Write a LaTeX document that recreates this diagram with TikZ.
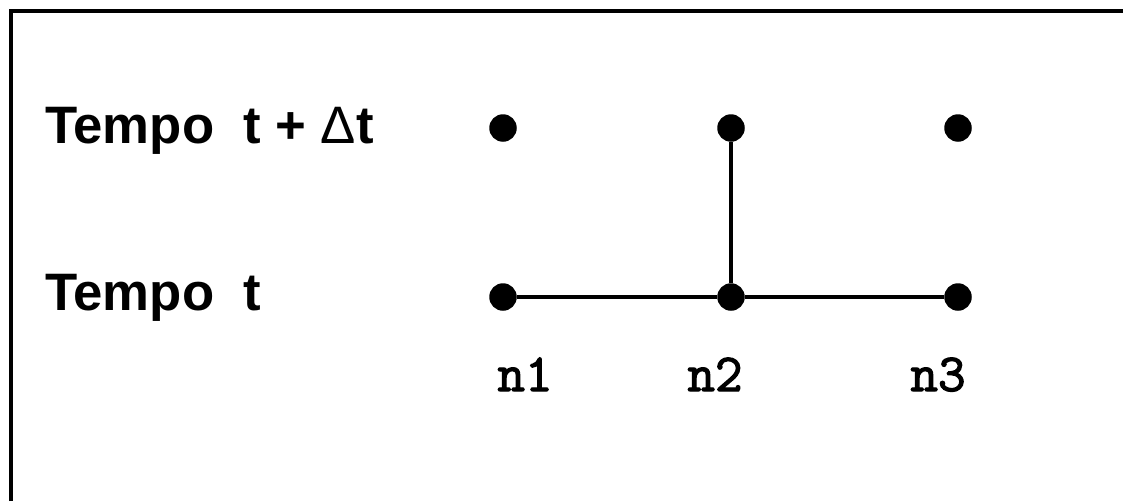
\documentclass[tikz,border=0pt]{standalone}
\usepackage{fontspec}
\setmainfont{Liberation Sans}
\newfontfamily\labelmono[FakeBold=2.2]{Latin Modern Mono}
\tikzset{
  gridpt/.style={circle, fill=black, inner sep=0pt, minimum size=0.55cm},
  timelbl/.style={anchor=base west, inner sep=0pt, font=\fontsize{30}{36}\selectfont\bfseries},
  nodelbl/.style={anchor=base, inner sep=0pt, font=\labelmono\fontsize{30.5}{36}\selectfont},
  bar/.style={line width=2.3pt}
}

\begin{document}
\begin{tikzpicture}[x=0.02cm, y=-0.02cm]
  \useasboundingbox (0,0) rectangle (1123,501);

  % ── Frame (top and left edge only) ───────────────────────────────
  \draw[bar] (11,501) -- (11,11) -- (1123,11);

  % ── Time levels ──────────────────────────────────────────────────
  \node[timelbl] (tnext) at (45,143) {Tempo\hspace{0.55em}t + {\mdseries Δ}t};
  \node[timelbl] (tnow)  at (45,310) {Tempo\hspace{0.55em}t};

  % ── Grid points ──────────────────────────────────────────────────
  \foreach \p/\x in {1/503, 2/731, 3/958}
    { \node[gridpt] (top\p) at (\x,128) {};
      \node[gridpt] (bot\p) at (\x,297) {}; }

  \draw[bar] (bot1) -- (bot2) -- (bot3);
  \draw[bar] (top2) -- (bot2);

  % ── Point names ──────────────────────────────────────────────────
  \foreach \p/\x in {1/525, 2/715, 3/938}
    { \node[nodelbl] (name\p) at (\x,391) {n\p}; }
\end{tikzpicture}
\end{document}
